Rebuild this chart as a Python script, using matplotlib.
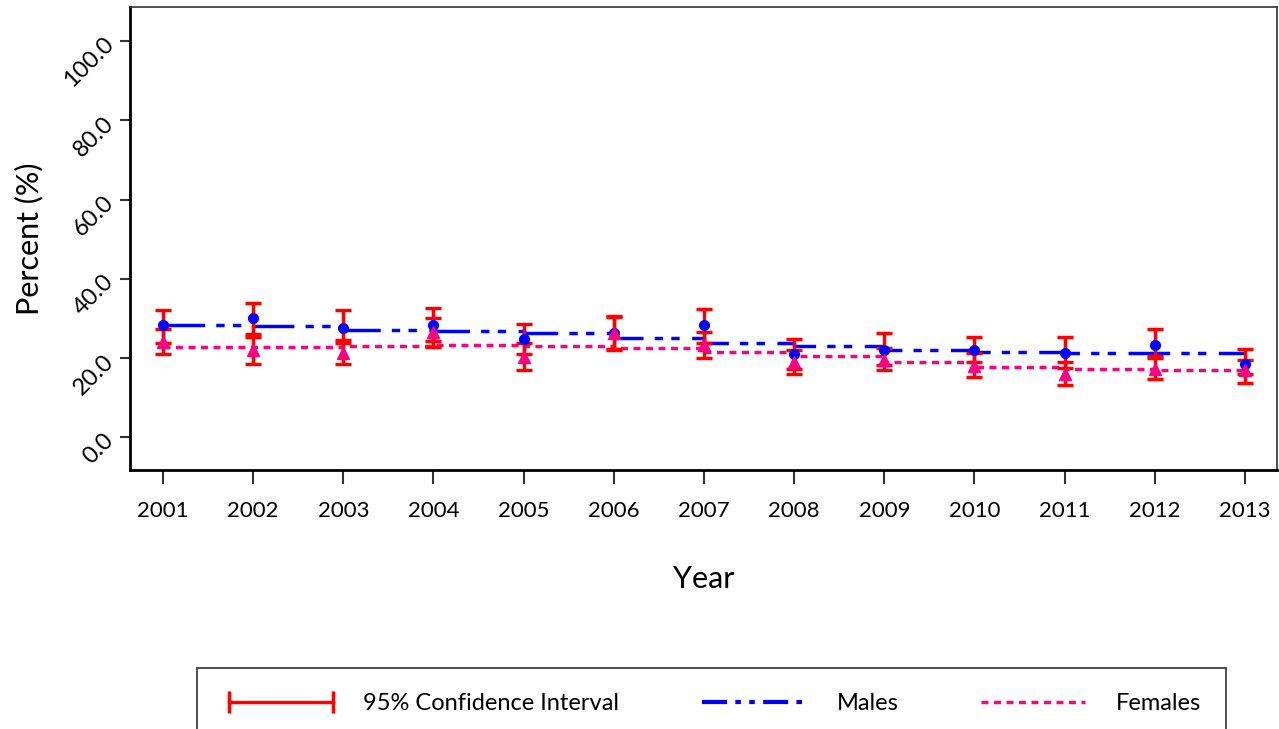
import matplotlib
matplotlib.use("Agg")
import matplotlib.pyplot as plt
from matplotlib.lines import Line2D

plt.rcParams['font.family'] = ['Lato', 'DejaVu Sans']
plt.rcParams['lines.scale_dashes'] = False

# data
years = [2001, 2002, 2003, 2004, 2005, 2006, 2007, 2008, 2009, 2010, 2011, 2012, 2013]

males = [28.4, 30.0, 27.7, 28.3, 24.9, 26.3, 28.3, 21.1, 22.1, 22.0, 21.3, 23.2, 18.6]
males_lo = [23.8, 25.3, 23.7, 24.3, 21.0, 22.2, 23.7, 17.3, 18.2, 19.0, 17.6, 19.9, 16.1]
males_hi = [32.1, 34.0, 32.1, 32.7, 28.7, 30.6, 32.5, 24.9, 26.2, 25.3, 25.3, 27.3, 22.4]
males_trend = [28.4, 28.0, 27.2, 26.8, 26.2, 25.0, 23.9, 23.1, 22.0, 21.5, 21.3, 21.3, 21.3]

females = [24.1, 22.0, 21.3, 26.5, 20.3, 26.2, 23.2, 19.0, 19.5, 17.9, 16.1, 17.3, 16.9]
females_lo = [20.9, 18.6, 18.6, 22.8, 17.1, 22.0, 20.0, 15.9, 16.9, 15.1, 13.3, 14.6, 13.7]
females_hi = [27.3, 26.0, 24.5, 30.0, 23.7, 30.4, 26.6, 22.0, 22.5, 21.3, 19.0, 20.5, 19.4]
females_trend = [22.8, 22.8, 23.0, 23.2, 23.1, 22.6, 21.6, 20.4, 19.0, 17.8, 17.2, 16.9, 16.7]

blue = '#0000FF'
pink = '#FF0080'
red = '#FF0000'

fig = plt.figure(figsize=(12.79, 7.29), dpi=100)
ax = fig.add_axes([0.1016, 0.355, 0.8965, 0.635])

male_dash = (0, (30, 8, 6, 6, 6, 9))
fem_dash = (0, (5, 4))

# trend lines (stepped)
ax.plot(years, males_trend, color=blue, lw=2.5, linestyle=male_dash,
        drawstyle='steps-post', zorder=2)
ax.plot(years, females_trend, color=pink, lw=2.5, linestyle=fem_dash,
        drawstyle='steps-post', zorder=2)

# confidence intervals
m_err = [[m - l for m, l in zip(males, males_lo)], [h - m for m, h in zip(males, males_hi)]]
f_err = [[m - l for m, l in zip(females, females_lo)], [h - m for m, h in zip(females, females_hi)]]
ax.errorbar(years, males, yerr=m_err, fmt='none', ecolor=red, elinewidth=2.5,
            capsize=6, capthick=2.5, zorder=3)
ax.errorbar(years, females, yerr=f_err, fmt='none', ecolor=red, elinewidth=2.5,
            capsize=6, capthick=2.5, zorder=3)

# observed points
ax.plot(years, males, 'o', color=blue, ms=7, zorder=4)
ax.plot(years, females, '^', color=pink, ms=9, zorder=4)

ax.set_xlim(2000.634, 2013.35)
ax.set_ylim(-8.3, 108.5)
ax.set_xticks(years)
ax.set_xticklabels([str(y) for y in years], fontsize=16)
ax.set_yticks([0, 20, 40, 60, 80, 100])
ax.set_yticklabels(['0.0', '20.0', '40.0', '60.0', '80.0', '100.0'],
                   fontsize=17, rotation=45, ha='right', va='center',
                   rotation_mode='anchor')
ax.tick_params(axis='x', length=10, width=1.5, pad=12, colors='#333333',
               labelcolor='black')
ax.tick_params(axis='y', length=7, width=1.5, pad=7, colors='#333333',
               labelcolor='black')

for side in ['left', 'bottom']:
    ax.spines[side].set_linewidth(2)
for side in ['top', 'right']:
    ax.spines[side].set_linewidth(1.2)
    ax.spines[side].set_color('#333333')

ax.set_xlabel('Year', fontsize=22, labelpad=32)
ax.set_ylabel('Percent (%)', fontsize=22, labelpad=12)

handles = [
    Line2D([], [], color=red, lw=2.5, marker='|', ms=16, mew=2.5),
    Line2D([], [], color=blue, lw=3, linestyle=(0, (18, 6, 4, 6, 4, 6))),
    Line2D([], [], color=pink, lw=2.5, linestyle=(0, (5, 4))),
]
labels = ['95% Confidence Interval', 'Males', 'Females']
leg = fig.legend(handles, labels, loc='upper left', bbox_to_anchor=(0.154, 0.0837),
                 ncol=3, numpoints=2, handlelength=5.0, handletextpad=1.0,
                 columnspacing=3.2, fontsize=17, frameon=True, fancybox=False,
                 borderpad=1.05, borderaxespad=0)
leg.get_frame().set_edgecolor('black')
leg.get_frame().set_linewidth(1.2)

fig.savefig('out.png', dpi=100)
